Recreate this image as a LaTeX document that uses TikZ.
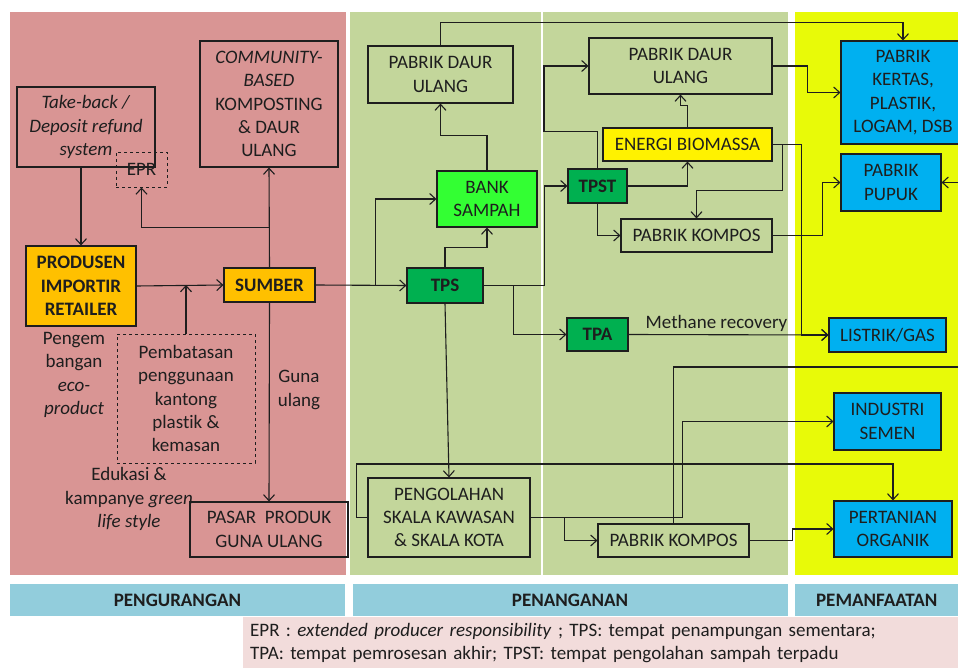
\documentclass[tikz,border=0pt]{standalone}
\usepackage{fontspec}
\setmainfont{Carlito}[Ligatures=NoCommon]
\usepackage{xcolor}
\usepackage{tikz}
\usetikzlibrary{arrows.meta, positioning, calc}

\definecolor{pinkbg}{RGB}{217,149,148}
\definecolor{greenbg}{RGB}{195,214,155}
\definecolor{yellowbg}{RGB}{232,250,8}
\definecolor{barblue}{RGB}{146,205,220}
\definecolor{legendbg}{RGB}{242,220,219}
\definecolor{orangebox}{RGB}{255,192,0}
\definecolor{darkgreen}{RGB}{0,176,80}
\definecolor{brightgreen}{RGB}{51,255,51}
\definecolor{skyblue}{RGB}{0,176,240}
\definecolor{ink}{RGB}{30,30,30}

\newcommand{\diagfont}{\fontsize{19}{23.3}\selectfont}

\begin{document}
\begin{tikzpicture}[x=1pt, y=-1pt,
    font=\diagfont, text=ink,
    % Node styles
    box/.style={rectangle, draw=ink, line width=1.1pt, inner sep=0pt, align=center},
    orangebox/.style={box, fill=orangebox, font=\diagfont\bfseries},
    tpsbox/.style={box, fill=darkgreen, font=\diagfont\bfseries},
    bankbox/.style={box, fill=brightgreen},
    energybox/.style={box, fill=yellow},
    usebox/.style={box, fill=skyblue},
    dashbox/.style={box, dashed, line width=0.9pt},
    freetext/.style={inner sep=0pt, align=center},
    barlabel/.style={rectangle, fill=barblue, inner sep=0pt, font=\diagfont\bfseries},
    arrow/.style={-{Straight Barb[length=6pt,width=11pt]}, line width=1.1pt, draw=ink},
    line/.style={line width=1.1pt, draw=ink}
]
\clip (0,0) rectangle (958,668);
\fill[white] (0,0) rectangle (958,668);

% Background panels
\fill[pinkbg] (10,12) rectangle (346,575);
\fill[greenbg] (350,12) rectangle (541,575);
\fill[greenbg] (543,12) rectangle (788,575);
\fill[yellowbg] (795,12) rectangle (958,575);

% Stage bars
\node[barlabel, minimum width=335, minimum height=32] (pengurangan) at (177.5,600) {PENGURANGAN};
\node[barlabel, minimum width=435, minimum height=32] (penanganan) at (570,600) {PENANGANAN};
\node[barlabel, minimum width=163, minimum height=32, anchor=west] (pemanfaatan) at (795,600) {PEMANFAATAN};

% Legend
\node[rectangle, fill=legendbg, anchor=north west, minimum width=715, minimum height=51,
      text width=701, inner xsep=7, inner ysep=0, align=left] (legend) at (243,617)
  {EPR : \textit{extended producer responsibility} ; TPS: tempat penampungan sementara;\\TPA: tempat pemrosesan akhir; TPST: tempat pengolahan sampah terpadu};

% PENGURANGAN
\node[box, minimum width=138, minimum height=80] (takeback) at (86,127) {\textit{Take-back /}\\\textit{Deposit refund}\\\textit{system}};
\node[dashbox, minimum width=51, minimum height=35] (epr) at (141.5,169.5) {EPR};
\node[box, minimum width=138, minimum height=126] (community) at (269,104) {\textit{COMMUNITY-}\\\textit{BASED}\\KOMPOSTING\\\& DAUR\\ULANG};
\node[orangebox, minimum width=110, minimum height=80] (produsen) at (81,286) {PRODUSEN\\IMPORTIR\\RETAILER};
\node[orangebox, minimum width=91, minimum height=34] (sumber) at (269.5,285) {SUMBER};
\node[dashbox, minimum width=138, minimum height=129] (pembatasan) at (186,398.5) {Pembatasan\\penggunaan\\kantong\\plastik \&\\kemasan};
\node[freetext] (ecoproduct) at (74,375) {Pengem\\bangan\\\textit{eco-}\\\textit{product}};
\node[freetext] (edukasi) at (129,499) {Edukasi \&\\kampanye \textit{green}\\\textit{life style}};
\node[freetext] (gunaulang) at (299,390) {Guna\\ulang};
\node[box, minimum width=158, minimum height=55] (pasar) at (269,529.5) {PASAR~ PRODUK\\GUNA ULANG};

% PENANGANAN
\node[box, minimum width=145, minimum height=57] (daurulang1) at (440.5,74.5) {PABRIK DAUR\\ULANG};
\node[bankbox, minimum width=100, minimum height=56] (bank) at (487,199) {BANK\\SAMPAH};
\node[tpsbox, minimum width=76, minimum height=35] (tps) at (445,285.5) {TPS};
\node[tpsbox, minimum width=59, minimum height=34] (tpst) at (597.5,186) {TPST};
\node[energybox, minimum width=169, minimum height=33] (energi) at (687.5,144.5) {ENERGI BIOMASSA};
\node[box, minimum width=183, minimum height=56] (daurulang2) at (680.5,66) {PABRIK DAUR\\ULANG};
\node[box, minimum width=151, minimum height=33] (kompos1) at (696.5,235.5) {PABRIK KOMPOS};
\node[tpsbox, minimum width=61, minimum height=33] (tpa) at (597.5,334.5) {TPA};
\node[box, minimum width=162, minimum height=79] (pengolahan) at (449,517.5) {PENGOLAHAN\\SKALA KAWASAN\\\& SKALA KOTA};
\node[box, minimum width=151, minimum height=33] (kompos2) at (673.5,540.5) {PABRIK KOMPOS};

% PEMANFAATAN
\node[usebox, minimum width=124, minimum height=103] (kertas) at (903,92.5) {PABRIK\\KERTAS,\\PLASTIK,\\LOGAM, DSB};
\node[usebox, minimum width=100, minimum height=57] (pupuk) at (891,182.5) {PABRIK\\PUPUK};
\node[usebox, minimum width=117, minimum height=34] (listrik) at (887.5,335) {LISTRIK/GAS};
\node[usebox, minimum width=107, minimum height=57] (industri) at (887.5,421.5) {INDUSTRI\\SEMEN};
\node[usebox, minimum width=118, minimum height=56] (pertanian) at (893,529) {PERTANIAN\\ORGANIK};
\coordinate (offedge) at (968,367);

% Arrows in PENGURANGAN
\draw[arrow] (takeback.south -| produsen.north) -- (produsen.north);
\draw[arrow] (sumber.north) -- (community.south);
\draw[arrow] ($(sumber.north)+(0,-40)$) -| (epr.south);
\draw[arrow] (produsen.east) -- (sumber.west);
\draw[arrow] (pembatasan.north) -- (pembatasan.north |- sumber.west);
\draw[arrow] (sumber.south) -- (pasar.north);

% Arrows in PENANGANAN
\draw[arrow] (sumber.east) -- (tps.west);
\draw[arrow] ($(tps.west)+(-31,0)$) |- (bank.west);
\draw[arrow] (tps.north) -- ++(0,-20) -| (bank.south);
\draw[arrow] (bank.north) -- ++(0,-35) -| (daurulang1.south);
\draw[arrow] (daurulang1.north) -- ++(0,-23) -| (kertas.north);
\draw[arrow] (tps.east) -- ++(61,0) |- (tpst.west);
\draw[arrow] (tpst.north) -- ++(0,-37) -- ++(-53.5,0) |- (daurulang2.west);
\draw[arrow] (tpst.east) -| (energi.south);
\draw[arrow] (energi.north) -- ++(0,-22) -| (daurulang2.south);
\draw[arrow] (tpst.south) |- (kompos1.west);
\draw[arrow] (energi.east) -- ++(10,0) -- ++(0,46) -| (kompos1.north);
\draw[arrow] ($(tps.east)+(30,0)$) |- (tpa.west);
\draw[arrow] (tps.south) -- (pengolahan.north);
\draw[arrow] (pengolahan.east) -- ++(34,0) |- (kompos2.west);

% Arrows to PEMANFAATAN
\draw[arrow] (daurulang2.east) -- ++(35,0) |- (kertas.west);
\draw[arrow] (energi.east) -- ++(29,0) |- (listrik.west);
\draw[arrow] (kompos1.east) -- ++(50,0) |- (pupuk.west);
\draw[arrow] (tpa.east) -- node[pos=0.44, above, inner sep=3pt] (methane) {Methane recovery} (listrik.west);
\draw[arrow] (pengolahan.east) -- ++(152,0) |- (industri.west);
\draw[arrow] (pengolahan.west) -- ++(-11,0) -- ++(0,-53.5) -| (pertanian.north);
\draw[arrow] (kompos2.east) -- ++(43,0) |- (pertanian.west);
\draw[arrow] (kompos2.north) |- (offedge) |- (pupuk.east);

\end{tikzpicture}
\end{document}
